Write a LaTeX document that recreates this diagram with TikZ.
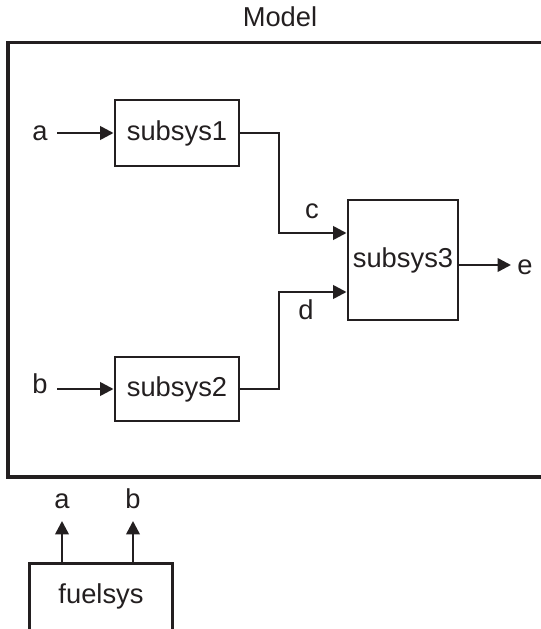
\documentclass[tikz,border=0pt]{standalone}
\usepackage{fontspec}
\setmainfont{Liberation Sans}
\usetikzlibrary{arrows.meta,calc}
\definecolor{ink}{HTML}{231F20}
\begin{document}
\begin{tikzpicture}[x=0.75pt,y=-0.75pt,
  txt/.style={inner sep=0pt,text=ink,font=\fontsize{20.5}{24}\selectfont},
  blk/.style={draw=ink,line width=2.2pt,inner sep=0pt,text=ink,font=\fontsize{20.5}{24}\selectfont},
  wire/.style={draw=ink,line width=1.9pt},
  arr/.style={wire,-{Triangle[length=10pt,width=10pt]}},
  frame/.style={draw=ink,line width=2.4pt}]
\useasboundingbox (0,0) rectangle (540,629);
% Model frame (open on the right)
\node[txt] (model) at (280,17) {Model};
\draw[frame] (541,42.5) -- (8,42.5) -- (8,477) -- (541,477);
% blocks
\node[blk,minimum width=124*0.75pt,minimum height=66*0.75pt] (s1) at (177,133) {subsys1};
\node[blk,minimum width=124*0.75pt,minimum height=64*0.75pt] (s2) at (177,389) {subsys2};
\node[blk,minimum width=110*0.75pt,minimum height=120*0.75pt] (s3) at (403,260) {subsys3};
% inputs and outputs
\node[txt] (a) at (40,133) {a};
\node[txt] (b) at (40,384) {b};
\node[txt] (e) at (525,267) {e};
\draw[arr] (57,133) -- (s1.west);
\draw[arr] (57,389) -- (s2.west);
\coordinate (eend) at (511,265);
\draw[arr] (s3.east |- eend) -- (eend);
% c and d
\coordinate (cy) at (349,233);
\coordinate (dy) at (349,292);
\draw[arr] (s1.east) -| (279,233) -- (s3.west |- cy);
\draw[arr] (s2.east) -| (279,292) -- (s3.west |- dy);
\node[txt] (c) at (312,211) {c};
\node[txt] (d) at (306,310) {d};
% fuelsys (open at bottom)
\node[txt,minimum width=142*0.75pt,minimum height=65*0.75pt] (fuel) at (101,596.5) {fuelsys};
\draw[blk] (fuel.south west) -- (fuel.north west) -- (fuel.north east) -- (fuel.south east);
\node[txt] (fa) at (62,501) {a};
\node[txt] (fb) at (133,499) {b};
\draw[arr] (fuel.north -| fa) -- (62,521);
\draw[arr] (fuel.north -| fb) -- (133,521);
\end{tikzpicture}
\end{document}
